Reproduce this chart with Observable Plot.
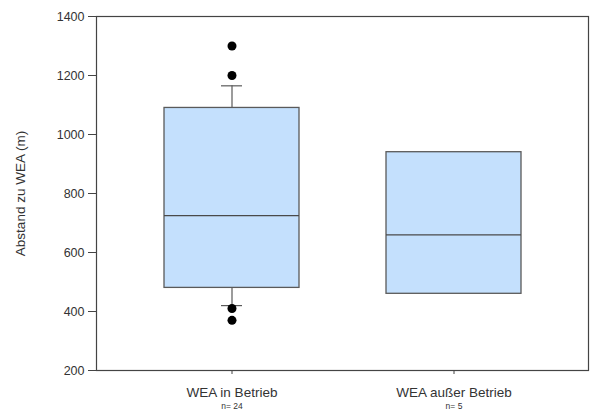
<!DOCTYPE html>
<html>
<head>
<meta charset="utf-8">
<script src="https://cdn.jsdelivr.net/npm/d3@7"></script>
<script src="https://cdn.jsdelivr.net/npm/@observablehq/plot@0.6"></script>
<style>
  html, body { margin: 0; padding: 0; background: #fff; }
  #chart svg { display: block; }
</style>
</head>
<body>
<div id="chart"></div>
<script>
// Groups and their sample sizes
const groups = ["WEA in Betrieb", "WEA außer Betrieb"];
const counts = [24, 5];

// Box statistics (distance to turbine, metres)
const q1 = [480, 460];
const median = [725, 660];
const q3 = [1090, 940];
const whiskerLow = [420, null];
const whiskerHigh = [1165, null];

// Outlying observations
const outlierGroup = ["WEA in Betrieb", "WEA in Betrieb", "WEA in Betrieb", "WEA in Betrieb"];
const outlierValue = [1300, 1200, 410, 370];

// Y-axis ticks
const yTicks = [200, 400, 600, 800, 1000, 1200, 1400];

const boxes = groups.map((g, i) => ({
  group: g, n: counts[i], q1: q1[i], median: median[i], q3: q3[i],
  lo: whiskerLow[i], hi: whiskerHigh[i]
}));
const whiskers = boxes.filter(d => d.lo != null);
const outliers = outlierGroup.map((g, i) => ({group: g, value: outlierValue[i]}));

const ink = "#444";
const boxStroke = "#5a5a5a";

const chart = Plot.plot({
  width: 590,
  height: 413,
  marginLeft: 96,
  marginRight: 2,
  marginTop: 16,
  marginBottom: 43,
  style: {fontFamily: "'Liberation Sans', Arial, sans-serif", fontSize: "12.5px", color: "#333", background: "#fff"},
  x: {domain: groups, paddingInner: 0.392, paddingOuter: 0.304, label: null},
  y: {domain: [200, 1400], label: null},
  marks: [
    // whisker stems behind the boxes
    Plot.ruleX(whiskers, {x: "group", y1: "q3", y2: "hi", stroke: boxStroke, strokeWidth: 1.2}),
    Plot.ruleX(whiskers, {x: "group", y1: "lo", y2: "q1", stroke: boxStroke, strokeWidth: 1.2}),
    Plot.tickY(whiskers, {x: "group", y: "hi", stroke: boxStroke, strokeWidth: 1.2, insetLeft: 57, insetRight: 57}),
    Plot.tickY(whiskers, {x: "group", y: "lo", stroke: boxStroke, strokeWidth: 1.2, insetLeft: 57, insetRight: 57}),
    // interquartile boxes
    Plot.barY(boxes, {x: "group", y1: "q1", y2: "q3", fill: "#c4e0fd", stroke: boxStroke, strokeWidth: 1.3}),
    // medians
    Plot.tickY(boxes, {x: "group", y: "median", stroke: "#4a4a4a", strokeWidth: 1.2}),
    // outliers
    Plot.dot(outliers, {x: "group", y: "value", r: 4.5, fill: "#000", stroke: null}),
    // axes
    Plot.axisY({ticks: yTicks, tickFormat: d => String(d), tickSize: 8, tickPadding: 4, stroke: ink, fontSize: 12.5, fill: "#333"}),
    Plot.axisX({tickSize: 4, tickPadding: 13, stroke: ink, fontSize: 13.5, fill: "#333"}),
    Plot.frame({stroke: ink, strokeWidth: 1.2}),
    // sample sizes under the category labels
    Plot.text(boxes, {x: "group", text: d => `n= ${d.n}`, frameAnchor: "bottom", dy: 38, fontSize: 8.5, fill: "#333"}),
    // y-axis title
    Plot.text(["Abstand zu WEA (m)"], {frameAnchor: "left", textAnchor: "middle", dx: -76, rotate: -90, fontSize: 13.5, fill: "#333"})
  ]
});

document.getElementById("chart").appendChild(chart);
</script>
</body>
</html>
